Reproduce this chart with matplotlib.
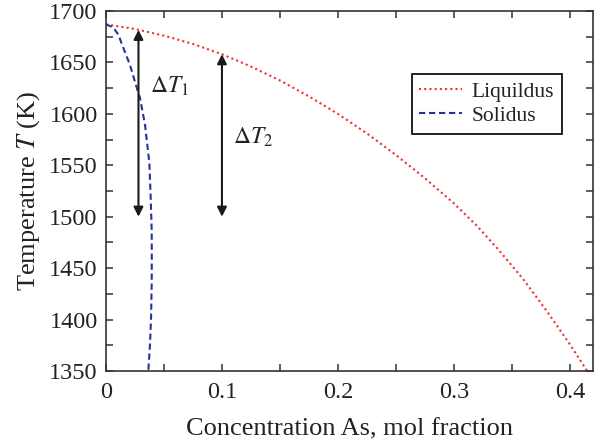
import matplotlib
matplotlib.use("Agg")
import matplotlib.pyplot as plt
import numpy as np
from matplotlib.ticker import MultipleLocator

# ---- data ----
liq_x = [0.0, 0.025, 0.05, 0.075, 0.1, 0.125, 0.15, 0.175, 0.2, 0.225, 0.25,
         0.275, 0.30, 0.32, 0.34, 0.36, 0.38, 0.40, 0.415]
liq_T = [1687, 1682.5, 1676, 1668, 1658, 1646, 1632.5, 1617, 1600, 1581, 1560,
         1537.5, 1513, 1491, 1466, 1439, 1408.5, 1376, 1350]

sol_x = [0.0, 0.0063, 0.0106, 0.015, 0.0207, 0.025, 0.0294, 0.0337, 0.0374, 0.0385,
         0.0394, 0.0395, 0.0394, 0.0389, 0.038, 0.0365]
sol_T = [1687, 1684, 1677, 1664, 1647.5, 1631, 1615, 1589, 1552, 1520,
         1487, 1460, 1435, 1403, 1377, 1350]

arrow_x = [0.028, 0.1]
arrow_bottom = 1500
arrow_labels = [r'$\Delta T_1$', r'$\Delta T_2$']
label_pos_x = [0.038, 0.1097]
label_pos_T = [1627, 1577]

x_ticks = [0, 0.1, 0.2, 0.3, 0.4]
x_tick_labels = ['0', '0.1', '0.2', '0.3', '0.4']
y_ticks = [1350, 1400, 1450, 1500, 1550, 1600, 1650, 1700]

plt.rcParams['font.family'] = ['Liberation Serif', 'DejaVu Serif']
plt.rcParams['mathtext.fontset'] = 'stix'

fig = plt.figure(figsize=(5.96, 4.45), dpi=100)
ax = fig.add_axes([106/596, 1-371/445, (593-106)/596, (371-11)/445])

ax.plot(liq_x, liq_T, color='#f03030', linestyle=(0, (1, 1.5)), lw=1.5, label='Liquildus')
ax.plot(sol_x, sol_T, color='#26329a', linestyle=(0, (3, 1.8)), lw=1.5, label='Solidus')

for xa, lab, lx, lt in zip(arrow_x, arrow_labels, label_pos_x, label_pos_T):
    top = np.interp(xa, liq_x, liq_T)
    ax.annotate('', xy=(xa, top), xytext=(xa, arrow_bottom),
                arrowprops=dict(arrowstyle='<|-|>', color='#1a1a1a', lw=1.5,
                                mutation_scale=14, shrinkA=0, shrinkB=0))
    ax.text(lx, lt, lab, fontsize=17, ha='left', va='center', color='#222222')

ax.set_xlim(0, 0.42)
ax.set_ylim(1350, 1700)
ax.set_xticks(x_ticks)
ax.set_xticklabels(x_tick_labels)
ax.set_yticks(y_ticks)
ax.xaxis.set_minor_locator(MultipleLocator(0.05))
ax.yaxis.set_minor_locator(MultipleLocator(25))
ax.tick_params(which='both', direction='in', top=True, right=True, length=5,
               width=1.1, color='#333333', labelsize=17.5, labelcolor='#222222')
ax.tick_params(axis='y', pad=6)
ax.tick_params(axis='x', pad=8)
for s in ax.spines.values():
    s.set_linewidth(1.2)
    s.set_color('#333333')

ax.set_xlabel('Concentration As, mol fraction', fontsize=19, color='#222222', labelpad=11)
ax.set_ylabel(r'Temperature $T$ (K)', fontsize=19, color='#222222', labelpad=5)

leg = ax.legend(loc='upper right', bbox_to_anchor=(0.936, 0.825), fontsize=15.5,
                frameon=True, fancybox=False, edgecolor='#111111', framealpha=1,
                handlelength=2.0, handletextpad=0.45, labelspacing=0.2,
                borderpad=0.35, borderaxespad=0)
leg.get_frame().set_linewidth(1.3)
for t in leg.get_texts():
    t.set_color('#222222')

fig.savefig('out.png', dpi=100)
